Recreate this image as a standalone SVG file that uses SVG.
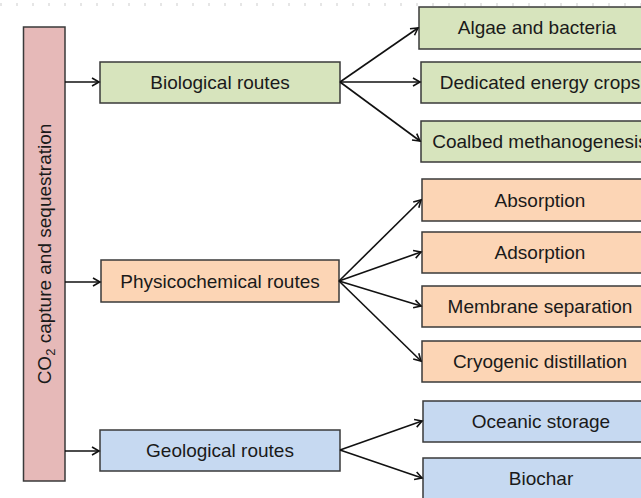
<svg xmlns="http://www.w3.org/2000/svg" width="641" height="498" viewBox="0 0 641 498">
<defs>
<marker id="ah" markerWidth="10" markerHeight="10" refX="8" refY="5" orient="auto" markerUnits="userSpaceOnUse">
<path d="M1,1 L8,5 L1,9" fill="none" stroke="#111" stroke-width="1.6"/>
</marker>
</defs>
<style>
.box{stroke:#3a3a3a;stroke-width:1.5}
.g{fill:#d7e4bd}.o{fill:#fcd5b5}.b{fill:#c6d9f1}.p{fill:#e6b9b8}
.t{font-family:"Liberation Sans",Arial,sans-serif;font-size:19px;fill:#1a1a1a;text-anchor:middle}
.c{stroke:#111;stroke-width:1.6;fill:none;marker-end:url(#ah)}
</style>
<rect width="641" height="498" fill="#ffffff"/>
<line x1="0" y1="4.5" x2="641" y2="4.5" stroke="#e6e6e6" stroke-width="3" stroke-dasharray="2,14"/>
<g id="root"><rect class="box p" x="23.5" y="27" width="41.5" height="454"/>
<text class="t" transform="translate(51,254) rotate(-90)">CO<tspan font-size="13" dy="4">2</tspan><tspan dy="-4"> capture and sequestration</tspan></text></g>
<g id="bio"><rect class="box g" x="100" y="62" width="240" height="41"/><text class="t" x="220" y="89">Biological routes</text></g>
<g id="phys"><rect class="box o" x="101" y="260" width="238" height="42"/><text class="t" x="220" y="288">Physicochemical routes</text></g>
<g id="geo"><rect class="box b" x="100" y="430" width="240" height="41"/><text class="t" x="220" y="457">Geological routes</text></g>
<g id="algae"><rect class="box g" x="419" y="7" width="240" height="42"/><text class="t" x="537" y="34">Algae and bacteria</text></g>
<g id="crops"><rect class="box g" x="421" y="62" width="240" height="41"/><text class="t" x="540" y="89">Dedicated energy crops</text></g>
<g id="coal"><rect class="box g" x="421" y="121" width="240" height="41"/><text class="t" x="540" y="148">Coalbed methanogenesis</text></g>
<g id="absorp"><rect class="box o" x="422" y="179" width="240" height="42"/><text class="t" x="540" y="207">Absorption</text></g>
<g id="adsorp"><rect class="box o" x="422" y="232" width="240" height="41"/><text class="t" x="540" y="259">Adsorption</text></g>
<g id="membrane"><rect class="box o" x="422" y="286" width="240" height="41"/><text class="t" x="540" y="313">Membrane separation</text></g>
<g id="cryo"><rect class="box o" x="422" y="341" width="240" height="41"/><text class="t" x="540" y="368">Cryogenic distillation</text></g>
<g id="ocean"><rect class="box b" x="423" y="401" width="240" height="41"/><text class="t" x="541" y="428">Oceanic storage</text></g>
<g id="biochar"><rect class="box b" x="423" y="458" width="240" height="42"/><text class="t" x="541" y="485">Biochar</text></g>
<g id="connectors">
<line class="c" x1="65" y1="82" x2="99" y2="82"/>
<line class="c" x1="65" y1="282" x2="100" y2="282"/>
<line class="c" x1="65" y1="451" x2="99" y2="451"/>
<line class="c" x1="340" y1="82" x2="418" y2="28"/>
<line class="c" x1="340" y1="82" x2="420" y2="82"/>
<line class="c" x1="340" y1="82" x2="420" y2="141"/>
<line class="c" x1="339" y1="281" x2="421" y2="200"/>
<line class="c" x1="339" y1="281" x2="421" y2="252"/>
<line class="c" x1="339" y1="281" x2="421" y2="306"/>
<line class="c" x1="339" y1="281" x2="421" y2="361"/>
<line class="c" x1="340" y1="450" x2="422" y2="421"/>
<line class="c" x1="340" y1="450" x2="422" y2="478"/>
</g>
</svg>
